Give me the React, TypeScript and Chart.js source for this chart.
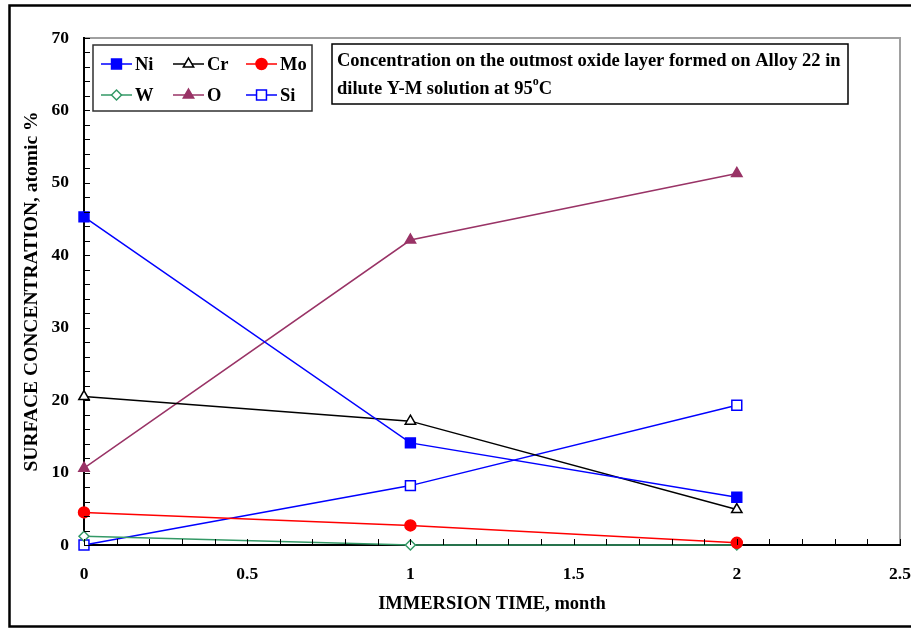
import React, { useEffect, useRef } from "react";
import { Chart, registerables } from "chart.js";

Chart.register(...registerables);

// ---- Data ----
const months = [0, 1, 2];
const niValues = [45.3, 14.1, 6.6];
const crValues = [20.5, 17.1, 4.9];
const moValues = [4.5, 2.7, 0.3];
const wValues = [1.2, 0.0, 0.0];
const oValues = [10.6, 42.1, 51.3];
const siValues = [0.0, 8.2, 19.3];

const xTickValues = [0, 0.5, 1, 1.5, 2, 2.5];
const yTickValues = [0, 10, 20, 30, 40, 50, 60, 70];

const seriesLabels = ["Ni", "Cr", "Mo", "W", "O", "Si"];
const xTitle = "IMMERSION TIME, month";
const yTitle = "SURFACE CONCENTRATION, atomic %";
const noteLine1 = "Concentration on the outmost oxide layer formed on Alloy 22 in";
const noteLine2a = "dilute Y-M solution at 95";
const noteSup = "o";
const noteLine2b = "C";

const FONT = '"Liberation Serif", "Times New Roman", serif';

type Series = {
  label: string;
  values: number[];
  color: string;
  style: "rect" | "triangle" | "circle" | "rectRot";
  filled: boolean;
  radius: number;
};

const series: Series[] = [
  { label: seriesLabels[0], values: niValues, color: "#0000FF", style: "rect", filled: true, radius: 7 },
  { label: seriesLabels[1], values: crValues, color: "#000000", style: "triangle", filled: false, radius: 6 },
  { label: seriesLabels[2], values: moValues, color: "#FF0000", style: "circle", filled: true, radius: 5.5 },
  { label: seriesLabels[3], values: wValues, color: "#339966", style: "rectRot", filled: false, radius: 5 },
  { label: seriesLabels[4], values: oValues, color: "#993366", style: "triangle", filled: true, radius: 6 },
  { label: seriesLabels[5], values: siValues, color: "#0000FF", style: "rect", filled: false, radius: 7 },
];

function drawMarker(
  ctx: CanvasRenderingContext2D,
  s: Series,
  x: number,
  y: number
) {
  const r = s.radius;
  ctx.save();
  ctx.beginPath();
  if (s.style === "rect") {
    const h = Math.SQRT1_2 * r;
    ctx.rect(x - h, y - h, 2 * h, 2 * h);
  } else if (s.style === "circle") {
    ctx.arc(x, y, r, 0, Math.PI * 2);
  } else if (s.style === "triangle") {
    let rad = 0;
    ctx.moveTo(x + Math.sin(rad) * r, y - Math.cos(rad) * r);
    rad += (2 * Math.PI) / 3;
    ctx.lineTo(x + Math.sin(rad) * r, y - Math.cos(rad) * r);
    rad += (2 * Math.PI) / 3;
    ctx.lineTo(x + Math.sin(rad) * r, y - Math.cos(rad) * r);
    ctx.closePath();
  } else {
    ctx.moveTo(x - r, y);
    ctx.lineTo(x, y - r);
    ctx.lineTo(x + r, y);
    ctx.lineTo(x, y + r);
    ctx.closePath();
  }
  ctx.fillStyle = s.filled ? s.color : "#FFFFFF";
  ctx.fill();
  ctx.strokeStyle = s.color;
  ctx.lineWidth = 1.5;
  ctx.stroke();
  ctx.restore();
}

const decorPlugin = {
  id: "decor",
  beforeDraw(chart: any) {
    const { ctx, chartArea } = chart;
    ctx.save();
    // outer frame (left, top, bottom)
    ctx.strokeStyle = "#000";
    ctx.lineWidth = 2.5;
    ctx.beginPath();
    ctx.moveTo(920, 5.5);
    ctx.lineTo(9.5, 5.5);
    ctx.lineTo(9.5, 626.5);
    ctx.lineTo(920, 626.5);
    ctx.stroke();
    // plot frame top/right in gray
    ctx.strokeStyle = "#A0A0A0";
    ctx.lineWidth = 2;
    ctx.beginPath();
    ctx.moveTo(chartArea.left, chartArea.top);
    ctx.lineTo(chartArea.right, chartArea.top);
    ctx.lineTo(chartArea.right, chartArea.bottom);
    ctx.stroke();
    ctx.restore();
  },
  afterDraw(chart: any) {
    const { ctx, chartArea, scales } = chart;
    const xs = scales.x;
    const ys = scales.y;
    ctx.save();
    ctx.strokeStyle = "#000";
    ctx.lineWidth = 1;
    // y minor ticks inward
    for (let v = 0; v <= 70; v += 2) {
      const py = Math.round(ys.getPixelForValue(v)) + 0.5;
      ctx.beginPath();
      ctx.moveTo(chartArea.left, py);
      ctx.lineTo(chartArea.left + 6, py);
      ctx.stroke();
    }
    // x minor ticks inward
    for (let i = 0; i <= 25; i++) {
      const v = i / 10;
      const px = Math.round(xs.getPixelForValue(v)) + 0.5;
      ctx.beginPath();
      ctx.moveTo(px, chartArea.bottom);
      ctx.lineTo(px, chartArea.bottom - 6);
      ctx.stroke();
    }

    // legend box
    const lx = chartArea.left + 9;
    const ly = chartArea.top + 7;
    const lw = 219;
    const lh = 66;
    ctx.fillStyle = "#FFFFFF";
    ctx.fillRect(lx, ly, lw, lh);
    ctx.strokeStyle = "#303030";
    ctx.lineWidth = 1.5;
    ctx.strokeRect(lx, ly, lw, lh);
    const colX = [lx + 8, lx + 80, lx + 153];
    const rowY = [ly + 19, ly + 50];
    ctx.font = `bold 18.5px ${FONT}`;
    ctx.textBaseline = "middle";
    ctx.textAlign = "left";
    series.forEach((s, i) => {
      const cx = colX[i % 3];
      const cy = rowY[Math.floor(i / 3)];
      ctx.strokeStyle = s.color;
      ctx.lineWidth = 1.5;
      ctx.beginPath();
      ctx.moveTo(cx, cy);
      ctx.lineTo(cx + 31, cy);
      ctx.stroke();
      drawMarker(ctx, s, cx + 15.5, cy);
      ctx.fillStyle = "#000";
      ctx.fillText(s.label, cx + 34, cy + 1);
    });

    // annotation box
    const ax = 332;
    const ay = 44;
    const aw = 516;
    const ah = 60;
    ctx.fillStyle = "#FFFFFF";
    ctx.fillRect(ax, ay, aw, ah);
    ctx.strokeStyle = "#000";
    ctx.lineWidth = 1.5;
    ctx.strokeRect(ax, ay, aw, ah);
    ctx.fillStyle = "#000";
    ctx.font = `bold 18.5px ${FONT}`;
    ctx.textBaseline = "alphabetic";
    ctx.fillText(noteLine1, ax + 5, ay + 22);
    ctx.fillText(noteLine2a, ax + 5, ay + 50);
    const w2 = ctx.measureText(noteLine2a).width;
    ctx.font = `bold 12px ${FONT}`;
    ctx.fillText(noteSup, ax + 5 + w2, ay + 41);
    const ws = ctx.measureText(noteSup).width;
    ctx.font = `bold 18.5px ${FONT}`;
    ctx.fillText(noteLine2b, ax + 5 + w2 + ws, ay + 50);
    ctx.restore();
  },
};

export default function App() {
  const canvasRef = useRef<HTMLCanvasElement | null>(null);

  useEffect(() => {
    if (!canvasRef.current) return;
    const chart = new Chart(canvasRef.current, {
      type: "line",
      data: {
        datasets: series.map((s) => ({
          label: s.label,
          data: months.map((m, i) => ({ x: m, y: s.values[i] })),
          borderColor: s.color,
          borderWidth: 1.5,
          backgroundColor: s.filled ? s.color : "#FFFFFF",
          pointStyle: s.style,
          pointRadius: s.radius,
          pointBackgroundColor: s.filled ? s.color : "#FFFFFF",
          pointBorderColor: s.color,
          pointBorderWidth: 1.5,
          tension: 0,
          clip: false as any,
        })),
      },
      options: {
        animation: false,
        responsive: true,
        maintainAspectRatio: false,
        layout: { padding: { top: 38, right: 11, left: 0, bottom: 0 } },
        plugins: {
          legend: { display: false },
          tooltip: { enabled: false },
        },
        scales: {
          x: {
            type: "linear",
            min: 0,
            max: 2.5,
            afterBuildTicks: (scale: any) => {
              scale.ticks = xTickValues.map((v) => ({ value: v }));
            },
            afterFit: (scale: any) => {
              scale.height = 83;
              scale.paddingLeft = 0;
              scale.paddingRight = 0;
            },
            grid: { display: false, drawTicks: false },
            border: { display: true, color: "#000", width: 2 },
            ticks: {
              padding: 19,
              maxRotation: 0,
              autoSkip: false,
              color: "#000",
              font: { family: FONT, size: 17.5, weight: "bold" },
              callback: (v: any) => String(v),
            },
            title: {
              display: true,
              text: xTitle,
              color: "#000",
              font: { family: FONT, size: 18.5, weight: "bold" },
              padding: { top: 0, bottom: 13 },
            },
          },
          y: {
            type: "linear",
            min: 0,
            max: 70,
            afterBuildTicks: (scale: any) => {
              scale.ticks = yTickValues.map((v) => ({ value: v }));
            },
            afterFit: (scale: any) => {
              scale.width = 84;
              scale.paddingTop = 0;
              scale.paddingBottom = 0;
            },
            grid: { display: false, drawTicks: false },
            border: { display: true, color: "#000", width: 2 },
            ticks: {
              padding: 15,
              color: "#000",
              font: { family: FONT, size: 17.5, weight: "bold" },
              callback: (v: any) => String(v),
            },
            title: {
              display: true,
              text: yTitle,
              color: "#000",
              font: { family: FONT, size: 19.5, weight: "bold" },
              padding: { top: 20, bottom: 0 },
            },
          },
        },
      },
      plugins: [decorPlugin],
    } as any);
    return () => chart.destroy();
  }, []);

  return (
    <div style={{ position: "fixed", left: 0, top: 0, width: 911, height: 628, background: "#fff" }}>
      <canvas ref={canvasRef} />
    </div>
  );
}
